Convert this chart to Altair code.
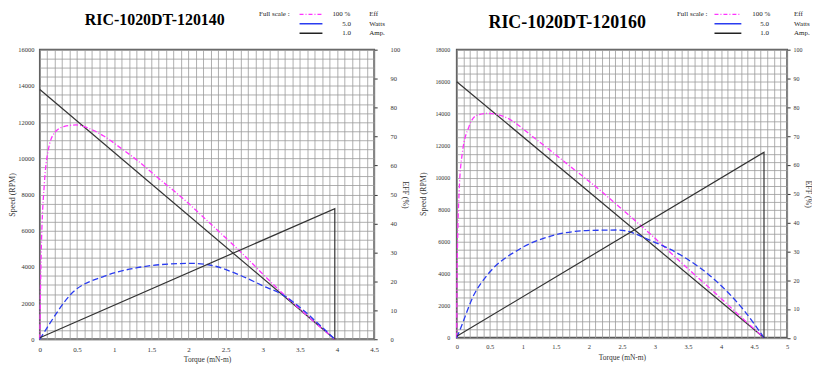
import altair as alt
import numpy as np
import pandas as pd

FONT = "Liberation Serif"

# ---------------- data: panel 1 (RIC-1020DT-120140) ----------------
p1_title = "RIC-1020DT-120140"
p1_speed_torque = [0, 3.97]
p1_speed_rpm = [13800, 0]
p1_eff_torque = [0, 0.008, 0.018, 0.062, 0.107, 0.197, 0.33, 0.49, 0.643, 0.866,
                 1.09, 1.31, 1.54, 1.98, 2.17, 2.68, 3.24, 3.64, 3.97]
p1_eff_pct = [0, 15.6, 29.2, 54.2, 64.4, 71.3, 73.5, 74.0, 73.0, 70.1,
              66.0, 61.8, 56.8, 47.4, 42.9, 30.7, 16.5, 7.2, 0]
p1_power_torque = [0, 0.11, 0.42, 0.87, 1.31, 1.76, 2.05, 2.35, 2.62, 3.06, 3.24, 3.51, 3.73, 3.97]
p1_power_w = [0, 0.225, 0.78, 1.09, 1.235, 1.30, 1.31, 1.265, 1.145, 0.89, 0.79, 0.54, 0.29, 0]
p1_current_torque = [0, 3.97, 3.97]
p1_current_a = [0.005, 0.451, 0]

# ---------------- data: panel 2 (RIC-1020DT-120160) ----------------
p2_title = "RIC-1020DT-120160"
p2_speed_torque = [0, 4.65]
p2_speed_rpm = [16000, 0]
p2_eff_torque = [0, 0.005, 0.035, 0.084, 0.185, 0.31, 0.485, 0.71, 1.21, 1.71,
                 2.21, 2.47, 2.93, 3.44, 3.94, 4.43, 4.65]
p2_eff_pct = [0, 21.7, 50.4, 64.1, 73.3, 77.3, 77.9, 76.8, 68.7, 59.6,
              50.4, 45.2, 36.0, 25.2, 14.9, 4.5, 0]
p2_power_torque = [0, 0.06, 0.26, 0.46, 0.96, 1.46, 1.96, 2.45, 2.93, 3.44, 3.94, 4.34, 4.65]
p2_power_w = [0, 0.17, 0.745, 1.085, 1.545, 1.775, 1.86, 1.87, 1.69, 1.40, 0.97, 0.485, 0]
p2_current_torque = [0, 4.65, 4.65]
p2_current_a = [0.005, 0.644, 0]

# full-scale values (right axis = 100)
full_scale_eff = 100.0
full_scale_watts = 5.0
full_scale_amp = 1.0
legend_values = ["100  %", "5.0", "1.0"]
legend_units = ["Eff", "Watts", "Amp."]
series_names = ["eff", "power"]
series_colors = ["#ff33ff", "#2a3cf0"]
series_dash = [[5, 2, 1, 2], [6, 3]]
line_black = "#333333"


def curve_frame(et, ev, pt, pv):
    rows = []
    for i, (t, v) in enumerate(zip(et, ev)):
        rows.append({"T": t, "pct": v / full_scale_eff * 100, "s": "eff", "i": i})
    for i, (t, v) in enumerate(zip(pt, pv)):
        rows.append({"T": t, "pct": v / full_scale_watts * 100, "s": "power", "i": i})
    return pd.DataFrame(rows)


one = pd.DataFrame({"k": [0]})


def txt(label, x, y, size=7, align="left", weight="normal", color="#222"):
    return alt.Chart(pd.DataFrame({"label": [label]})).mark_text(
        font=FONT, fontSize=size, align=align, baseline="middle",
        fontWeight=weight, color=color
    ).encode(x=alt.value(x), y=alt.value(y), text="label:N")


def seg(x1, x2, y, color, dash, width=1.4):
    return alt.Chart(one).mark_rule(color=color, strokeDash=dash, strokeWidth=width).encode(
        x=alt.value(x1), x2=alt.value(x2), y=alt.value(y))


def panel(title, title_size, title_cx, title_cy, st, sv, et, ev, pt, pv, ct, cv,
          xmax, ymax, w, h, ylab_size, ylab_pad, ytitle_x, rlab_pad, rtitle_x,
          leg):
    xgrid = [float(v) for v in np.round(np.arange(0, xmax + 1e-6, 0.1), 1)]
    xs = alt.Scale(domain=[0, xmax], nice=False, zero=True)
    x_axis = alt.Axis(
        values=xgrid, format="~g",
        labelExpr="abs(datum.value*2 - round(datum.value*2)) < 0.01 ? datum.label : ''",
        grid=True, gridColor="#9a9a9a", gridWidth=0.8, ticks=False, domain=False,
        labelFontSize=ylab_size + 0.5, labelColor="#333", labelPadding=6,
        labelFlush=False, labelOverlap=False,
        titleFontSize=7.5, titleFontWeight="normal", titleColor="#333", titlePadding=3)
    y_axis = alt.Axis(
        orient="left", values=list(range(0, ymax + 1, 500)), format="d",
        labelExpr="datum.value % 2000 == 0 ? datum.label : ''",
        grid=True, gridColor="#9a9a9a", gridWidth=0.8, ticks=False, domain=False,
        labelFontSize=ylab_size, labelColor="#333", labelPadding=ylab_pad,
        labelFlush=False, labelOverlap=False,
        titleFontSize=8, titleFontWeight="normal", titleColor="#333",
        titleX=ytitle_x, titleY=h / 2)
    r_axis = alt.Axis(
        orient="right", values=list(range(0, 101, 10)), format="d",
        grid=False, ticks=True, tickSize=3, tickColor="#333", domain=False,
        labelFontSize=ylab_size, labelColor="#333", labelPadding=rlab_pad,
        labelFlush=False,
        titleFontSize=8, titleFontWeight="normal", titleColor="#333",
        titleX=rtitle_x, titleY=h / 2)

    X = alt.X("T:Q", scale=xs, axis=x_axis, title="Torque (mN-m)")
    Yp = alt.Y("pct:Q", scale=alt.Scale(domain=[0, 100], nice=False), axis=r_axis, title="EFF (%)")

    speed_df = pd.DataFrame({"T": st, "rpm": sv})
    speed = alt.Chart(speed_df).mark_line(color=line_black, strokeWidth=1.2).encode(
        x=X,
        y=alt.Y("rpm:Q", scale=alt.Scale(domain=[0, ymax], nice=False), axis=y_axis,
                title="Speed (RPM)"))
    curves = alt.Chart(curve_frame(et, ev, pt, pv)).mark_line(
        strokeWidth=1.3, interpolate="monotone").encode(
        x=X, y=Yp,
        color=alt.Color("s:N", scale=alt.Scale(domain=series_names, range=series_colors), legend=None),
        strokeDash=alt.StrokeDash("s:N", scale=alt.Scale(domain=series_names, range=series_dash), legend=None),
        order="i:Q")
    cur_df = pd.DataFrame({"T": ct, "pct": [v / full_scale_amp * 100 for v in cv], "i": list(range(len(ct)))})
    current = alt.Chart(cur_df).mark_line(color=line_black, strokeWidth=1.2).encode(
        x=X, y=Yp, order="i:Q")
    pct_layer = alt.layer(curves, current)

    fx, lx1, lx2, vx, v2x, ux, rows = leg
    layers = [speed, pct_layer,
              txt(title, title_cx, title_cy, size=title_size, align="center", weight="bold", color="#000"),
              txt("Full scale :", fx, rows[0], align="right"),
              seg(lx1, lx2, rows[0], series_colors[0], [4, 2, 1, 2], 1.2),
              seg(lx1, lx2, rows[1], series_colors[1], [1, 0], 1.6),
              seg(lx1, lx2, rows[2], "#222", [1, 0], 1.6),
              txt(legend_values[0], vx, rows[0]),
              txt(legend_values[1], v2x, rows[1]),
              txt(legend_values[2], v2x, rows[2]),
              txt(legend_units[0], ux, rows[0]),
              txt(legend_units[1], ux, rows[1]),
              txt(legend_units[2], ux, rows[2])]
    return alt.layer(*layers).resolve_scale(y="independent").properties(width=w, height=h)


left = panel(p1_title, 16, 115.5, -29.5,
             p1_speed_torque, p1_speed_rpm, p1_eff_torque, p1_eff_pct,
             p1_power_torque, p1_power_w, p1_current_torque, p1_current_a,
             4.5, 16000, 336, 291, 6.5, 6, -23, 13, 26,
             (251, 261, 284, 294, 304, 331, (-35.5, -26, -16.5)))
right = panel(p2_title, 18, 111, -27,
              p2_speed_torque, p2_speed_rpm, p2_eff_torque, p2_eff_pct,
              p2_power_torque, p2_power_w, p2_current_torque, p2_current_a,
              5, 18000, 332, 289.5, 6, 7, -29, 3, 16,
              (252, 259, 286, 297, 305, 339, (-35.5, -26, -16.5)))

chart = alt.hconcat(left, right, spacing=10).properties(
    padding={"left": 0, "top": 0, "right": 0, "bottom": 0}, background="white"
).configure(font=FONT).configure_view(stroke="#5a5a5a", strokeWidth=1.8)

chart.save("out.html", embed_options={"renderer": "svg", "actions": False})
